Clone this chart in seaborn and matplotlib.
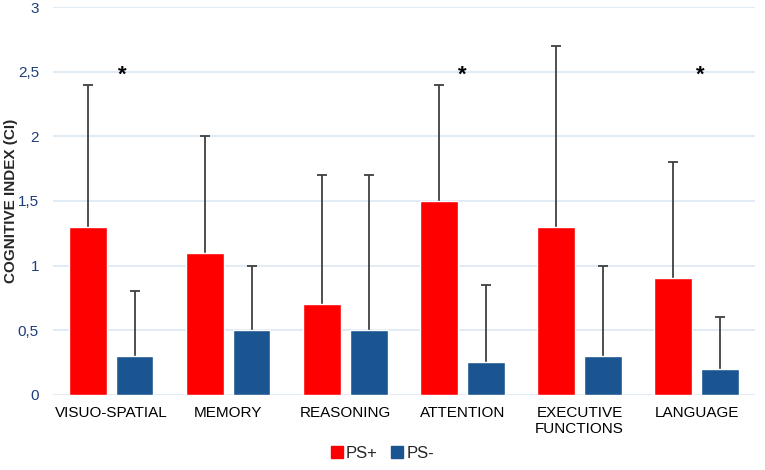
import numpy as np
import pandas as pd
import seaborn as sns
import matplotlib.pyplot as plt
from matplotlib.patches import Patch

# data
domains = ['VISUO-SPATIAL', 'MEMORY', 'REASONING', 'ATTENTION', 'EXECUTIVE\nFUNCTIONS', 'LANGUAGE']
ps_pos = [1.3, 1.1, 0.7, 1.5, 1.3, 0.9]
ps_pos_top = [2.4, 2.0, 1.7, 2.4, 2.7, 1.8]
ps_neg = [0.3, 0.5, 0.5, 0.25, 0.3, 0.2]
ps_neg_top = [0.8, 1.0, 1.7, 0.85, 1.0, 0.6]
signif = ['VISUO-SPATIAL', 'ATTENTION', 'LANGUAGE']
star_shift = [0.09, 0.0, 0.03]

red = '#ff0000'
blue = '#1b5591'

df = pd.DataFrame({
    'domain': domains * 2,
    'group': ['PS+'] * len(domains) + ['PS-'] * len(domains),
    'ci': ps_pos + ps_neg,
})

sns.set_style('white')
plt.rcParams['font.family'] = ['Liberation Sans', 'DejaVu Sans']

fig = plt.figure(figsize=(7.65, 4.70), dpi=100)
ax = fig.add_axes([0.069, 0.16, 0.918, 0.825])

sns.barplot(data=df, x='domain', y='ci', hue='group', palette=[red, blue],
            width=0.8, gap=0.2, ax=ax, legend=False, zorder=3, saturation=1)

# upper error bars only, drawn behind the bars so the lower part is hidden
x = np.arange(len(domains))
for vals, tops, off in [(ps_pos, ps_pos_top, -0.2), (ps_neg, ps_neg_top, 0.2)]:
    vals = np.array(vals)
    tops = np.array(tops)
    eb = ax.errorbar(x + off, vals, yerr=[vals, tops - vals], fmt='none',
                     ecolor='#404040', elinewidth=1.3, capsize=3.5, capthick=1.3, zorder=2)
    eb[1][0].set_visible(False)  # drop the lower cap

for name, s in zip(signif, star_shift):
    i = domains.index(name)
    ax.text(i + s, 2.47, '*', ha='center', va='center', fontsize=16,
            fontweight='bold', color='black', zorder=4)

ax.set_ylim(0, 3)
ax.set_xlim(-0.5, len(domains) - 0.5)
ax.set_yticks([0, 0.5, 1, 1.5, 2, 2.5, 3])
ax.set_yticklabels(['0', '0,5', '1', '1,5', '2', '2,5', '3'], color='#1f3d7a', fontsize=11)
ax.tick_params(axis='x', labelsize=11, length=0, pad=8, colors='black')
ax.tick_params(axis='y', length=0, pad=10)
ax.yaxis.grid(True, color='#dce8f5', linewidth=1.2, zorder=0)
ax.set_axisbelow(True)
for sp in ax.spines.values():
    sp.set_visible(False)

ax.set_xlabel('')
ax.set_ylabel('COGNITIVE INDEX (CI)', fontsize=11, fontweight='bold')
ax.yaxis.set_label_coords(-0.049, 0.5)

handles = [Patch(color=red, label='PS+'), Patch(color=blue, label='PS-')]
fig.legend(handles=handles, loc='lower center', bbox_to_anchor=(0.5, -0.012), ncol=2,
           frameon=False, fontsize=12, handlelength=0.7, handleheight=0.7,
           handletextpad=0.2, columnspacing=0.8)

fig.savefig('out.png', dpi=100)
